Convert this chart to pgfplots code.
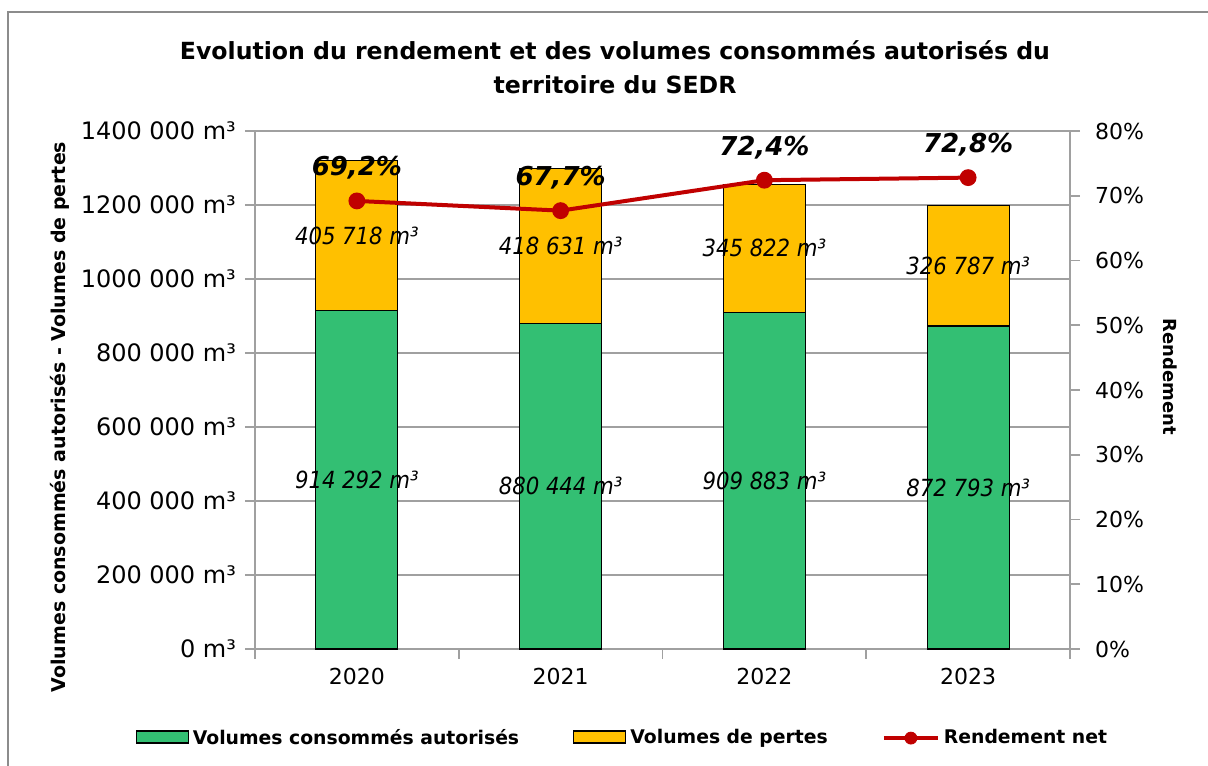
\documentclass[border=0pt]{standalone}
\usepackage{pgfplots}
\pgfplotsset{compat=1.18}
\usepackage{fontspec}
\setmainfont{DejaVu Sans}
\newfontfamily\condfont{DejaVu Sans Condensed}
\definecolor{cgreen}{RGB}{51,191,115}
\definecolor{cyellow}{RGB}{255,192,0}
\definecolor{cred}{RGB}{192,0,0}
\definecolor{cgrid}{RGB}{160,160,160}
\definecolor{cframe}{RGB}{140,140,140}
\begin{document}
\begin{tikzpicture}
\pgfplotsset{
  base/.style={width=407.5pt,height=259pt,scale only axis,xmin=-0.5,xmax=3.5,clip=false},
}
\path[use as bounding box] (-127.5pt,-58pt) rectangle (476.5pt,324.5pt);
\draw[cframe, line width=0.8pt] (-123.5pt,-62pt) -- (-123.5pt,318.5pt) -- (480pt,318.5pt);
\node[align=center, font=\bfseries\fontsize{11.8}{17}\selectfont] at (180pt,291pt)
  {Evolution du rendement et des volumes consommés autorisés du\\territoire du SEDR};
\node[rotate=90, font=\bfseries\fontsize{9.5}{11}\selectfont] at (-97.5pt,116pt)
  {Volumes consommés autorisés - Volumes de pertes};
\node[rotate=-90, font=\bfseries\fontsize{9}{11}\selectfont] at (457.5pt,136pt) {Rendement};

\begin{axis}[base, ybar stacked, bar width=41pt, ymin=0, ymax=1400000,
  scaled y ticks=false,
  axis x line*=bottom, axis y line*=left,
  axis line style={cgrid, line width=0.8pt},
  every tick/.style={cgrid, line width=0.8pt},
  tick align=outside, major tick length=5pt,
  ytick={0,200000,400000,600000,800000,1000000,1200000,1400000},
  yticklabels={0 m³,200 000 m³,400 000 m³,600 000 m³,800 000 m³,1000 000 m³,1200 000 m³,1400 000 m³},
  yticklabel style={font=\fontsize{12}{14}\selectfont, xshift=-1pt},
  ymajorgrids, grid style={cgrid, line width=0.8pt},
  xtick={-0.5,0.5,1.5,2.5,3.5}, xticklabels={},
  extra x ticks={0,1,2,3}, extra x tick labels={2020,2021,2022,2023},
  extra x tick style={major tick length=0pt, xticklabel style={font=\fontsize{11}{13}\selectfont, yshift=-6pt}},
  legend columns=3,
  legend cell align=left,
  legend style={at={(0.452,-0.172)}, anchor=center, draw=none,
    font=\bfseries\fontsize{9.4}{11}\selectfont,
    /tikz/every even column/.append style={column sep=25pt}},
]
\addplot[fill=cgreen, draw=black, line width=0.6pt,
  legend image code/.code={\draw[fill=cgreen,draw=black,line width=0.6pt] (0pt,-2.5pt) rectangle (26pt,3.5pt);}]
  coordinates {(0,914292) (1,880444) (2,909883) (3,872793)};
\addlegendentry{Volumes consommés autorisés}
\addplot[fill=cyellow, draw=black, line width=0.6pt,
  legend image code/.code={\draw[fill=cyellow,draw=black,line width=0.6pt] (0pt,-2.5pt) rectangle (26pt,3.5pt);}]
  coordinates {(0,405718) (1,418631) (2,345822) (3,326787)};
\addlegendentry{Volumes de pertes}
\addlegendimage{legend image code/.code={\draw[cred,line width=2pt] (0pt,0pt) -- (27pt,0pt); \fill[cred] (13.5pt,0pt) circle (3pt);}}
\addlegendentry{Rendement net}
\end{axis}

\begin{axis}[base, ymin=0, ymax=80,
  axis x line=none, axis y line*=right,
  axis line style={cgrid, line width=0.8pt},
  every tick/.style={cgrid, line width=0.8pt},
  tick align=outside, major tick length=5pt,
  ytick={0,10,20,30,40,50,60,70,80},
  yticklabels={0\%,10\%,20\%,30\%,40\%,50\%,60\%,70\%,80\%},
  yticklabel style={font=\fontsize{11}{13}\selectfont, xshift=4pt},
]
\addplot[cred, line width=2pt, mark=*, mark size=3.2pt, mark options={fill=cred, draw=cred},
  nodes near coords, point meta=explicit symbolic,
  every node near coord/.style={anchor=center, yshift=16.5pt, text=black,
    font=\bfseries\itshape\fontsize{13}{15}\selectfont}]
  coordinates {(0,69.2) [{69,2\%}] (1,67.7) [{67,7\%}] (2,72.4) [{72,4\%}] (3,72.8) [{72,8\%}]};
\end{axis}

\begin{axis}[base, ymin=0, ymax=1400000, hide axis]
\addplot[draw=none, mark=none, nodes near coords, point meta=explicit symbolic,
  every node near coord/.style={anchor=center, text=black,
    font=\condfont\itshape\fontsize{11.8}{14}\selectfont}]
  coordinates {(0,457146) [914 292 m³] (1,440222) [880 444 m³] (2,454941.5) [909 883 m³] (3,436396.5) [872 793 m³]
    (0,1117151) [405 718 m³] (1,1089655.5) [418 631 m³] (2,1082794) [345 822 m³] (3,1036186.5) [326 787 m³]};
\end{axis}
\end{tikzpicture}
\end{document}
